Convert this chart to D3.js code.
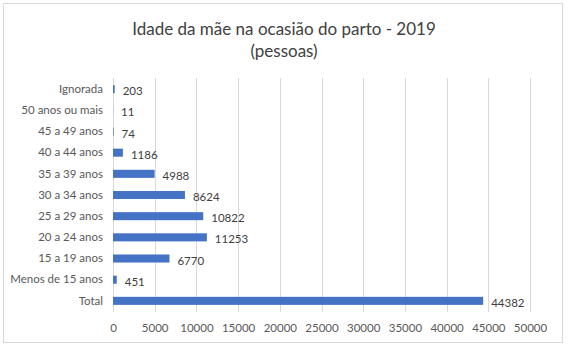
<!DOCTYPE html>
<html lang="pt">
  <head>
    <meta charset="utf-8" />
    <title>Idade da mãe na ocasião do parto - 2019</title>
    <script src="https://cdnjs.cloudflare.com/ajax/libs/d3/7.8.5/d3.min.js"></script>
    <style>
      body { margin: 0; background: #fff; }
      text { font-family: Lato, "Open Sans", sans-serif; }
      .grid line { stroke: #d9d9d9; stroke-width: 1; }
      .axis text { fill: #595959; font-size: 11.5px; }
      .label { fill: #404040; font-size: 11.5px; }
      .title { fill: #404040; font-size: 17px; }
    </style>
  </head>
  <body>
    <div id="chart"></div>
    <script>
      // Categories top to bottom, as they appear in the chart.
      const categories = ['Ignorada', '50 anos ou mais', '45 a 49 anos', '40 a 44 anos', '35 a 39 anos',
        '30 a 34 anos', '25 a 29 anos', '20 a 24 anos', '15 a 19 anos', 'Menos de 15 anos', 'Total'];
      const values = [203, 11, 74, 1186, 4988, 8624, 10822, 11253, 6770, 451, 44382];
      const xTicks = [0, 5000, 10000, 15000, 20000, 25000, 30000, 35000, 40000, 45000, 50000];

      const width = 568;
      const height = 351;
      const plot = { left: 113, right: 530, top: 78, bottom: 312 };

      const svg = d3.select('#chart').append('svg')
        .attr('width', width)
        .attr('height', height);

      // Chart border.
      svg.append('rect')
        .attr('x', 3.5).attr('y', 3.5)
        .attr('width', 559).attr('height', 339)
        .attr('fill', '#fff')
        .attr('stroke', '#d9d9d9');

      svg.append('text')
        .attr('class', 'title')
        .attr('x', 284).attr('y', 35)
        .attr('text-anchor', 'middle')
        .text('Idade da mãe na ocasião do parto - 2019');
      svg.append('text')
        .attr('class', 'title')
        .attr('x', 284).attr('y', 57)
        .attr('text-anchor', 'middle')
        .text('(pessoas)');

      const x = d3.scaleLinear().domain([0, 50000]).range([plot.left, plot.right]);
      // band range reaches a little past the gridlines so rows sit like the original
      const y = d3.scaleBand().domain(categories).range([72, 318]).padding(0.62);

      // Vertical gridlines.
      svg.append('g')
        .attr('class', 'grid')
        .selectAll('line')
        .data(xTicks)
        .join('line')
          .attr('x1', d => Math.round(x(d)) + 0.5)
          .attr('x2', d => Math.round(x(d)) + 0.5)
          .attr('y1', plot.top)
          .attr('y2', plot.bottom);

      // X axis labels.
      const xAxis = d3.axisBottom(x).tickValues(xTicks).tickFormat(d3.format('d')).tickSize(0).tickPadding(8);
      svg.append('g')
        .attr('class', 'axis')
        .attr('transform', `translate(0,${plot.bottom + 4})`)
        .call(xAxis)
        .call(g => g.select('.domain').remove());

      // Y axis labels.
      const yAxis = d3.axisLeft(y).tickSize(0).tickPadding(10);
      svg.append('g')
        .attr('class', 'axis')
        .attr('transform', `translate(${plot.left},0)`)
        .call(yAxis)
        .call(g => g.select('.domain').remove());

      // Bars.
      svg.append('g')
        .selectAll('rect')
        .data(values)
        .join('rect')
          .attr('x', x(0))
          .attr('y', (d, i) => y(categories[i]))
          .attr('width', d => x(d) - x(0))
          .attr('height', y.bandwidth())
          .attr('fill', '#4472c4');

      // Data labels.
      svg.append('g')
        .selectAll('text')
        .data(values)
        .join('text')
          .attr('class', 'label')
          .attr('x', d => x(d) + 8)
          .attr('y', (d, i) => y(categories[i]) + y.bandwidth() / 2 + 2)
          .attr('dy', '0.35em')
          .text(d => d);
    </script>
  </body>
</html>
